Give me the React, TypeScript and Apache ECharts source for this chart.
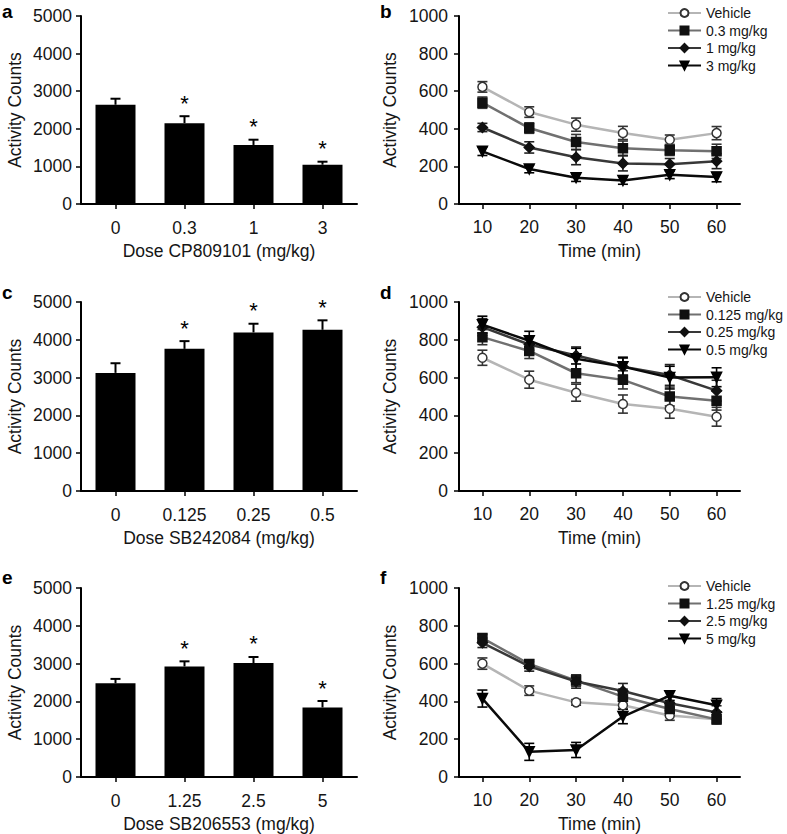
import React, { useEffect, useRef } from "react";
import * as echarts from "echarts";

// ---------- DATA ----------
const doseA = ["0", "0.3", "1", "3"];
const countsA = [2640, 2150, 1570, 1045];
const semA = [160, 185, 140, 80];
const sigA = [0, 1, 1, 1];

const doseC = ["0", "0.125", "0.25", "0.5"];
const countsC = [3125, 3760, 4195, 4265];
const semC = [255, 205, 230, 250];
const sigC = [0, 1, 1, 1];

const doseE = ["0", "1.25", "2.5", "5"];
const countsE = [2480, 2925, 3015, 1840];
const semE = [115, 135, 160, 170];
const sigE = [0, 1, 1, 1];

const timeLabels = ["10", "20", "30", "40", "50", "60"];

const namesB = ["Vehicle", "0.3 mg/kg", "1 mg/kg", "3 mg/kg"];
const vehB = [623, 489, 422, 378, 342, 377];
const vehBErr = [28, 28, 35, 35, 25, 35];
const b03 = [539, 404, 330, 297, 286, 280];
const b03Err = [30, 28, 40, 38, 28, 38];
const b1 = [407, 301, 249, 216, 212, 228];
const b1Err = [22, 30, 40, 40, 30, 40];
const b3 = [280, 186, 140, 125, 155, 143];
const b3Err = [22, 20, 20, 20, 20, 25];

const namesD = ["Vehicle", "0.125 mg/kg", "0.25 mg/kg", "0.5 mg/kg"];
const vehD = [705, 589, 520, 460, 435, 393];
const vehDErr = [40, 45, 45, 48, 50, 50];
const d0125 = [814, 741, 623, 588, 500, 478];
const d0125Err = [40, 40, 50, 48, 50, 50];
const d025 = [867, 775, 717, 658, 614, 531];
const d025Err = [45, 45, 45, 45, 55, 55];
const d05 = [880, 795, 700, 658, 600, 602];
const d05Err = [45, 50, 55, 50, 60, 50];

const namesF = ["Vehicle", "1.25 mg/kg", "2.5 mg/kg", "5 mg/kg"];
const vehF = [600, 457, 395, 380, 325, 305];
const vehFErr = [30, 25, 15, 20, 25, 15];
const f125 = [735, 598, 510, 425, 360, 305];
const f125Err = [20, 22, 30, 40, 35, 25];
const f25 = [710, 585, 505, 455, 390, 342];
const f25Err = [25, 25, 35, 40, 35, 35];
const f5 = [415, 133, 143, 320, 430, 380];
const f5Err = [45, 45, 40, 38, 25, 35];

const barXNames = ["Dose CP809101 (mg/kg)", "Dose SB242084 (mg/kg)", "Dose SB206553 (mg/kg)"];
const panelLetters = ["a", "b", "c", "d", "e", "f"];

// ---------- STYLE ----------
const FONT = '"Liberation Sans", Arial, Helvetica, sans-serif';
const TXT = "#151515";
const FS = 17.5;
const lineStyles = [
  { line: "#b5b5b5", symbol: "circle", size: 9, fill: "#ffffff", border: "#333333", rotate: 0, err: "#333333" },
  { line: "#707070", symbol: "rect", size: 9, fill: "#111111", border: "#111111", rotate: 0, err: "#333333" },
  { line: "#383838", symbol: "diamond", size: 10, fill: "#111111", border: "#111111", rotate: 0, err: "#222222" },
  { line: "#0a0a0a", symbol: "triangle", size: 10, fill: "#000000", border: "#000000", rotate: 180, err: "#000000" },
];

const grids = [
  { left: 81, top: 16, width: 276, height: 188 },
  { left: 459, top: 16, width: 281, height: 188 },
  { left: 81, top: 302, width: 276, height: 189 },
  { left: 459, top: 302, width: 281, height: 189 },
  { left: 81, top: 588, width: 276, height: 189 },
  { left: 459, top: 588, width: 281, height: 189 },
];

function barErrRender(params: any, api: any) {
  const i = api.value(0);
  const v = api.value(1);
  const e = api.value(2);
  const sig = api.value(3);
  const base = api.coord([i, v]);
  const top = api.coord([i, v + e]);
  const st = { stroke: "#000", lineWidth: 2 };
  const children: any[] = [
    { type: "line", shape: { x1: base[0], y1: base[1], x2: top[0], y2: top[1] }, style: st },
    { type: "line", shape: { x1: top[0] - 5, y1: top[1], x2: top[0] + 5, y2: top[1] }, style: st },
  ];
  if (sig) {
    children.push({
      type: "text",
      x: top[0],
      y: top[1] - 2,
      style: { text: "*", fontSize: 22, fontFamily: FONT, fill: "#000", align: "center", verticalAlign: "bottom" },
    });
  }
  return { type: "group", children };
}

function makeLineErrRender(color: string) {
  return (params: any, api: any) => {
    const i = api.value(0);
    const v = api.value(1);
    const e = api.value(2);
    const hi = api.coord([i, v + e]);
    const lo = api.coord([i, v - e]);
    const st = { stroke: color, lineWidth: 1.6 };
    return {
      type: "group",
      children: [
        { type: "line", shape: { x1: hi[0], y1: hi[1], x2: lo[0], y2: lo[1] }, style: st },
        { type: "line", shape: { x1: hi[0] - 5, y1: hi[1], x2: hi[0] + 5, y2: hi[1] }, style: st },
        { type: "line", shape: { x1: lo[0] - 5, y1: lo[1], x2: lo[0] + 5, y2: lo[1] }, style: st },
      ],
    };
  };
}

function axisCommon() {
  return {
    axisLine: { show: true, lineStyle: { color: "#000", width: 2 } },
    axisTick: { show: true, length: 5, lineStyle: { color: "#000", width: 1.5 } },
    splitLine: { show: false },
  };
}

const plain = (v: number) => String(v);

export default function App() {
  const ref = useRef<HTMLDivElement>(null);
  useEffect(() => {
    if (!ref.current) return;
    const chart = echarts.init(ref.current, null, { renderer: "svg" });

    const xAxes: any[] = [];
    const yAxes: any[] = [];
    const series: any[] = [];
    const legends: any[] = [];

    const barSets = [
      { cats: doseA, vals: countsA, sem: semA, sig: sigA },
      { cats: doseC, vals: countsC, sem: semC, sig: sigC },
      { cats: doseE, vals: countsE, sem: semE, sig: sigE },
    ];
    const lineSets = [
      { names: namesB, vals: [vehB, b03, b1, b3], errs: [vehBErr, b03Err, b1Err, b3Err] },
      { names: namesD, vals: [vehD, d0125, d025, d05], errs: [vehDErr, d0125Err, d025Err, d05Err] },
      { names: namesF, vals: [vehF, f125, f25, f5], errs: [vehFErr, f125Err, f25Err, f5Err] },
    ];

    for (let r = 0; r < 3; r++) {
      // bar panel
      const gi = r * 2;
      const bs = barSets[r];
      xAxes.push({
        type: "category",
        gridIndex: gi,
        data: bs.cats,
        ...axisCommon(),
        axisTick: { show: true, alignWithLabel: true, length: 5, lineStyle: { color: "#000", width: 1.5 } },
        axisLabel: { color: TXT, fontSize: FS, fontFamily: FONT, margin: 15 },
        name: barXNames[r],
        nameLocation: "middle",
        nameGap: 38,
        nameTextStyle: { color: TXT, fontSize: FS, fontFamily: FONT },
      });
      yAxes.push({
        type: "value",
        gridIndex: gi,
        min: 0,
        max: 5000,
        interval: 1000,
        ...axisCommon(),
        axisLabel: { color: TXT, fontSize: FS, fontFamily: FONT, margin: 9, formatter: plain },
        name: "Activity Counts",
        nameLocation: "middle",
        nameGap: 57,
        nameTextStyle: { color: TXT, fontSize: FS, fontFamily: FONT },
      });
      series.push({
        type: "bar",
        xAxisIndex: gi,
        yAxisIndex: gi,
        data: bs.vals,
        barWidth: 40,
        itemStyle: { color: "#000" },
        z: 2,
      });
      series.push({
        type: "custom",
        xAxisIndex: gi,
        yAxisIndex: gi,
        data: bs.vals.map((v, i) => [i, v, bs.sem[i], bs.sig[i]]),
        renderItem: barErrRender,
        z: 3,
      });

      // line panel
      const li = r * 2 + 1;
      const ls = lineSets[r];
      xAxes.push({
        type: "category",
        gridIndex: li,
        data: timeLabels,
        ...axisCommon(),
        axisTick: { show: true, alignWithLabel: true, length: 5, lineStyle: { color: "#000", width: 1.5 } },
        axisLabel: { color: TXT, fontSize: FS, fontFamily: FONT, margin: 14 },
        name: "Time (min)",
        nameLocation: "middle",
        nameGap: 38,
        nameTextStyle: { color: TXT, fontSize: FS, fontFamily: FONT },
      });
      yAxes.push({
        type: "value",
        gridIndex: li,
        min: 0,
        max: 1000,
        interval: 200,
        ...axisCommon(),
        axisLabel: { color: TXT, fontSize: FS, fontFamily: FONT, margin: 11, formatter: plain },
        name: "Activity Counts",
        nameLocation: "middle",
        nameGap: 60,
        nameTextStyle: { color: TXT, fontSize: FS, fontFamily: FONT },
      });
      ls.names.forEach((nm, k) => {
        const s = lineStyles[k];
        series.push({
          type: "custom",
          xAxisIndex: li,
          yAxisIndex: li,
          data: ls.vals[k].map((v, i) => [i, v, ls.errs[k][i]]),
          renderItem: makeLineErrRender(s.err),
          z: 2,
        });
      });
      ls.names.forEach((nm, k) => {
        const s = lineStyles[k];
        series.push({
          type: "line",
          name: nm,
          xAxisIndex: li,
          yAxisIndex: li,
          data: ls.vals[k],
          symbol: s.symbol,
          symbolSize: s.size,
          symbolRotate: s.rotate,
          showAllSymbol: true,
          lineStyle: { color: s.line, width: 2.5 },
          itemStyle: { color: s.fill, borderColor: s.border, borderWidth: 1.5 },
          z: 3 + k,
        });
      });
      legends.push({
        orient: "vertical",
        left: 667,
        top: [6, 290, 579][r],
        padding: 0,
        itemWidth: 33,
        itemHeight: 10,
        itemGap: 3.5,
        selectedMode: false,
        data: ls.names,
        textStyle: { color: TXT, fontSize: 14, fontFamily: FONT },
      });
    }

    const letterPos = [
      [2, 21], [380, 21],
      [2, 302], [380, 302],
      [2, 587], [380, 587],
    ];
    const graphic = panelLetters.map((t, i) => ({
      type: "text",
      x: letterPos[i][0],
      y: letterPos[i][1],
      style: { text: t, fontSize: 19, fontWeight: "bold", fontFamily: FONT, fill: "#000", verticalAlign: "bottom" },
    }));

    chart.setOption({
      animation: false,
      backgroundColor: "#ffffff",
      textStyle: { fontFamily: FONT },
      grid: grids,
      xAxis: xAxes,
      yAxis: yAxes,
      legend: legends,
      series,
      graphic,
    });
    return () => chart.dispose();
  }, []);
  return (
    <div
      ref={ref}
      style={{ position: "absolute", left: 0, top: 0, width: 787, height: 834, background: "#fff" }}
    />
  );
}
